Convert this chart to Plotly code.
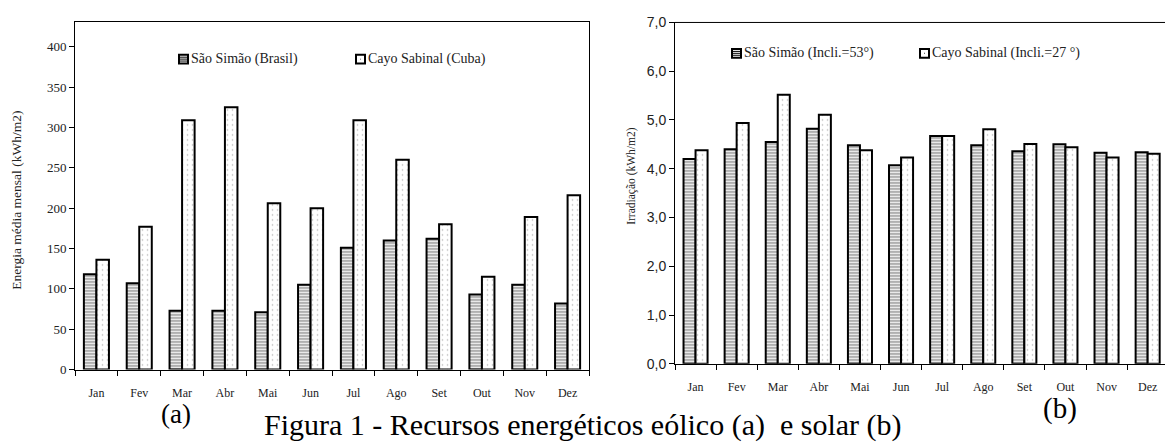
import plotly.graph_objects as go

W, H = 1165, 448

months = ["Jan", "Fev", "Mar", "Abr", "Mai", "Jun", "Jul", "Ago", "Set", "Out", "Nov", "Dez"]

# (a) Wind energy, kWh/m2
eolico_sao_simao = [118, 107, 73, 73, 71, 105, 151, 160, 162, 93, 105, 82]
eolico_cayo_sabinal = [136, 177, 309, 325, 206, 200, 309, 260, 180, 115, 189, 216]

# (b) Solar irradiation, kWh/m2
solar_sao_simao = [4.20, 4.40, 4.55, 4.82, 4.48, 4.07, 4.67, 4.48, 4.36, 4.50, 4.33, 4.34]
solar_cayo_sabinal = [4.38, 4.94, 5.52, 5.11, 4.38, 4.23, 4.67, 4.81, 4.51, 4.44, 4.23, 4.31]

left_ticks = [0, 50, 100, 150, 200, 250, 300, 350, 400]
right_ticks = [0, 1, 2, 3, 4, 5, 6, 7]

SERIF = "Liberation Serif, Times New Roman, serif"
SANS = "Liberation Sans, Arial, sans-serif"


def px(x):
    return x / W


def py(y):
    return 1 - y / H


lines_pattern = dict(shape="-", fgcolor="black", bgcolor="white", size=3, solidity=0.45)
dots_pattern = dict(shape=".", fgcolor="#666666", bgcolor="white", size=5, solidity=0.08)
outline = dict(color="black", width=2)

fig = go.Figure()
fig.add_trace(go.Bar(x=months, y=eolico_sao_simao, name="São Simão (Brasil)",
                     marker=dict(color="white", pattern=lines_pattern, line=outline),
                     xaxis="x", yaxis="y", showlegend=False))
fig.add_trace(go.Bar(x=months, y=eolico_cayo_sabinal, name="Cayo Sabinal (Cuba)",
                     marker=dict(color="white", pattern=dots_pattern, line=outline),
                     xaxis="x", yaxis="y", showlegend=False))
fig.add_trace(go.Bar(x=months, y=solar_sao_simao, name="São Simão (Incli.=53°)",
                     marker=dict(color="white", pattern=lines_pattern, line=outline),
                     xaxis="x2", yaxis="y2", showlegend=False))
fig.add_trace(go.Bar(x=months, y=solar_cayo_sabinal, name="Cayo Sabinal (Incli.=27 °)",
                     marker=dict(color="white", pattern=dots_pattern, line=outline),
                     xaxis="x2", yaxis="y2", showlegend=False))

axis_common = dict(showgrid=False, zeroline=False, showline=True, linecolor="black", linewidth=1,
                   ticks="outside", ticklen=5, tickcolor="black", tickwidth=1)

fig.update_layout(
    width=W, height=H,
    margin=dict(l=0, r=0, t=0, b=0),
    paper_bgcolor="white", plot_bgcolor="white",
    separators=", ",
    barmode="group", bargap=0.415, bargroupgap=0,
    xaxis=dict(domain=[px(75), px(589)], anchor="y", type="category", tickson="boundaries",
               range=[-0.5, 11.5], mirror=True, ticklabelstandoff=12,
               tickfont=dict(family=SERIF, size=12, color="#222"), **axis_common),
    yaxis=dict(domain=[py(375), py(15)], anchor="x", range=[0, 430], tickvals=left_ticks,
               mirror=True, tickfont=dict(family=SERIF, size=13, color="#222"), **axis_common),
    xaxis2=dict(domain=[px(675), 1], anchor="y2", type="category", tickson="boundaries",
                range=[-0.5, -0.5 + (W - 675) / 41.1], ticklabelstandoff=12,
                tickfont=dict(family=SERIF, size=12, color="#222"), **axis_common),
    yaxis2=dict(domain=[py(369), py(15)], anchor="x2", range=[0, 7], tickvals=right_ticks,
                tickformat=".1f", tickfont=dict(family=SANS, size=14, color="#222"), **axis_common),
)

# top border of right panel
fig.add_shape(type="line", xref="paper", yref="paper", x0=px(675), x1=1, y0=py(15), y1=py(15),
              line=dict(color="black", width=1))

annotations = []


def note(text, x, y, size, family=SERIF, angle=0, xanchor="center", color="#222"):
    annotations.append(dict(text=text, x=px(x), y=py(y), xref="paper", yref="paper",
                            xanchor=xanchor, yanchor="middle", textangle=angle, showarrow=False,
                            borderpad=0, font=dict(family=family, size=size, color=color)))


# axis titles
note("Energia média mensal (kWh/m2)", 17, 200, 13.5, angle=-90)
note("Irradiação (kWh/m2)", 632, 174, 11.5, angle=-90)
# panel labels and caption
note("(a)", 176, 421, 27, color="black")
note("(b)", 1060, 415, 29, color="black")
note("Figura 1 - Recursos energéticos eólico (a)  e solar (b)", 583, 432, 30, color="black")

# manual legends
legend_items = [
    (179, 53, "São Simão (Brasil)", "lines"),
    (356, 53, "Cayo Sabinal (Cuba)", "dots"),
    (732, 47, "São Simão (Incli.=53°)", "lines"),
    (920, 47, "Cayo Sabinal (Incli.=27 °)", "dots"),
]
for x0, yc, label, kind in legend_items:
    fig.add_shape(type="rect", xref="paper", yref="paper", x0=px(x0), x1=px(x0 + 9),
                  y0=py(yc + 4.5), y1=py(yc - 4.5), line=dict(color="black", width=2), fillcolor="white")
    if kind == "lines":
        for dy in (-2, 0, 2):
            fig.add_shape(type="line", xref="paper", yref="paper", x0=px(x0 + 1), x1=px(x0 + 8),
                          y0=py(yc + dy), y1=py(yc + dy), line=dict(color="black", width=1))
    else:
        fig.add_shape(type="rect", xref="paper", yref="paper", x0=px(x0 + 4), x1=px(x0 + 5),
                      y0=py(yc + 0.5), y1=py(yc - 0.5), line=dict(color="#444", width=0), fillcolor="#444")
    note(label, x0 + 11, yc, 14, xanchor="left")

fig.update_layout(annotations=annotations)

fig.write_html("out.html")
